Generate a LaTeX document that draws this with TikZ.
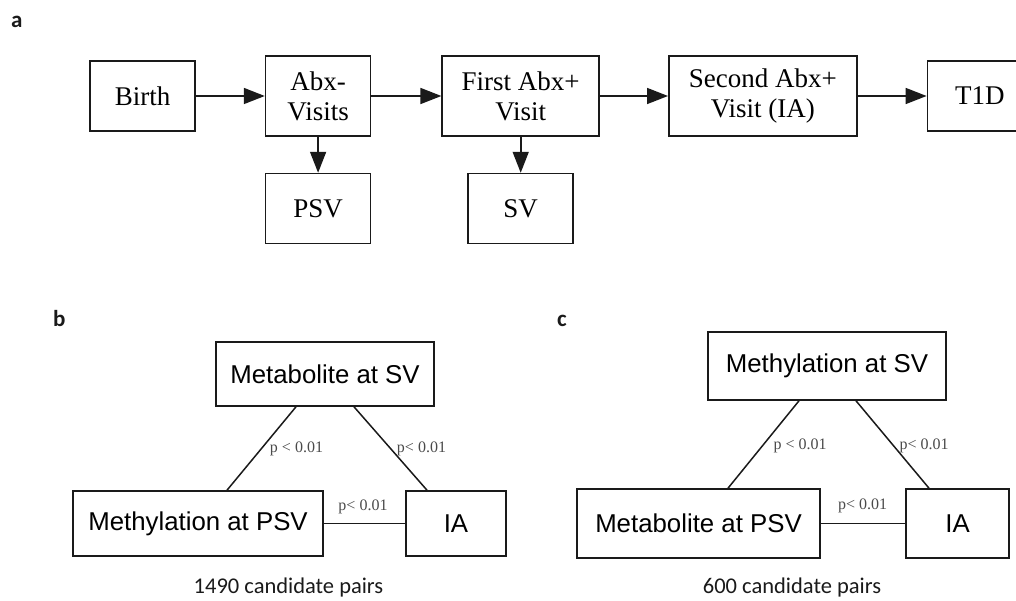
\documentclass[tikz,border=0pt]{standalone}
\usepackage{fontspec}
\setmainfont{Liberation Serif}
\setsansfont{Liberation Sans}
\newfontfamily\capfont{Carlito}
\usepackage{tikz}
\usetikzlibrary{arrows.meta,positioning}
\definecolor{ink}{HTML}{1A1A1A}
\definecolor{pgray}{HTML}{4A4A4A}
\tikzset{
  flowbox/.style={
    draw=ink, line width=1.6pt, fill=white, align=center, inner sep=0pt,
    minimum width=105pt, minimum height=70pt,
    font=\fontsize{27}{30}\selectfont
  },
  tallbox/.style={flowbox, minimum height=80pt},
  pairbox/.style={
    draw=ink, line width=1.6pt, fill=white, align=center, inner sep=0pt,
    font=\sffamily\fontsize{25.8}{29}\selectfont
  },
  plabel/.style={font=\fontsize{16}{18}\selectfont, text=pgray, inner sep=0pt},
  caption/.style={font=\capfont\fontsize{22.5}{26}\selectfont, text=ink, inner sep=0pt},
  panel/.style={font=\capfont\bfseries\fontsize{23}{26}\selectfont, text=ink, inner sep=0pt, anchor=base west},
  flow/.style={-{Triangle[length=21pt,width=16pt]}, draw=ink, line width=1.6pt},
  link/.style={draw=ink, line width=1.5pt}
}
\begin{document}
\begin{tikzpicture}[x=1pt, y=-1pt, node distance=69pt and 69pt]
  \clip (0,0) rectangle (1016,601);

  % panel a: visit timeline
  \node[panel] (lbla) at (11,28) {a};
  \node[flowbox] (birth) at (142.5,96) {Birth};
  \node[tallbox, right=69pt of birth] (abx) {Abx-\\Visits};
  \node[tallbox, minimum width=157pt, right=70pt of abx] (first) {First Abx+\\Visit};
  \node[tallbox, minimum width=188pt, right=68pt of first] (second) {Second Abx+\\Visit (IA)};
  \node[flowbox, right=69pt of second] (tid) {T1D};
  \node[flowbox, below=36pt of abx] (psv) {PSV};
  \node[flowbox, below=36pt of first] (sv) {SV};

  \draw[flow] (birth) -- (abx);
  \draw[flow] (abx) -- (first);
  \draw[flow] (first) -- (second);
  \draw[flow] (second) -- (tid);
  \draw[flow] (abx) -- (psv);
  \draw[flow] (first) -- (sv);

  % panel b
  \node[panel] (lblb) at (53,326) {b};
  \node[pairbox, minimum width=218pt, minimum height=64pt] (metsv) at (325,374) {Metabolite at SV};
  \node[pairbox, minimum width=250pt, minimum height=65pt] (methpsv) at (198,523.5) {Methylation at PSV};
  \node[pairbox, minimum width=100pt, minimum height=65pt] (iab) at (456,523.5) {IA};
  \draw[link] ([xshift=-29pt]metsv.south) -- ([xshift=29pt]methpsv.north);
  \draw[link] ([xshift=29pt]metsv.south) -- ([xshift=-29pt]iab.north);
  \draw[link] (methpsv.east) -- (iab.west);
  \node[plabel] (pbl) at (296.5,449) {p < 0.01};
  \node[plabel] (pbr) at (421.5,449) {p< 0.01};
  \node[plabel] (pbm) at (363,507) {p< 0.01};
  \node[caption] (capb) at (288.5,587) {1490 candidate pairs};

  % panel c
  \node[panel] (lblc) at (557,326) {c};
  \node[pairbox, minimum width=238pt, minimum height=68pt] (methsv) at (827,366) {Methylation at SV};
  \node[pairbox, minimum width=243pt, minimum height=69pt] (metpsv) at (698.5,523.5) {Metabolite at PSV};
  \node[pairbox, minimum width=103pt, minimum height=69pt] (iac) at (957.5,523.5) {IA};
  \draw[link] ([xshift=-28pt]methsv.south) -- ([xshift=29.5pt]metpsv.north);
  \draw[link] ([xshift=29pt]methsv.south) -- ([xshift=-28.5pt]iac.north);
  \draw[link] (metpsv.east) -- (iac.west);
  \node[plabel] (pcl) at (800,446) {p < 0.01};
  \node[plabel] (pcr) at (924,446) {p< 0.01};
  \node[plabel] (pcm) at (862.5,506) {p< 0.01};
  \node[caption] (capc) at (792,587) {600 candidate pairs};
\end{tikzpicture}
\end{document}
